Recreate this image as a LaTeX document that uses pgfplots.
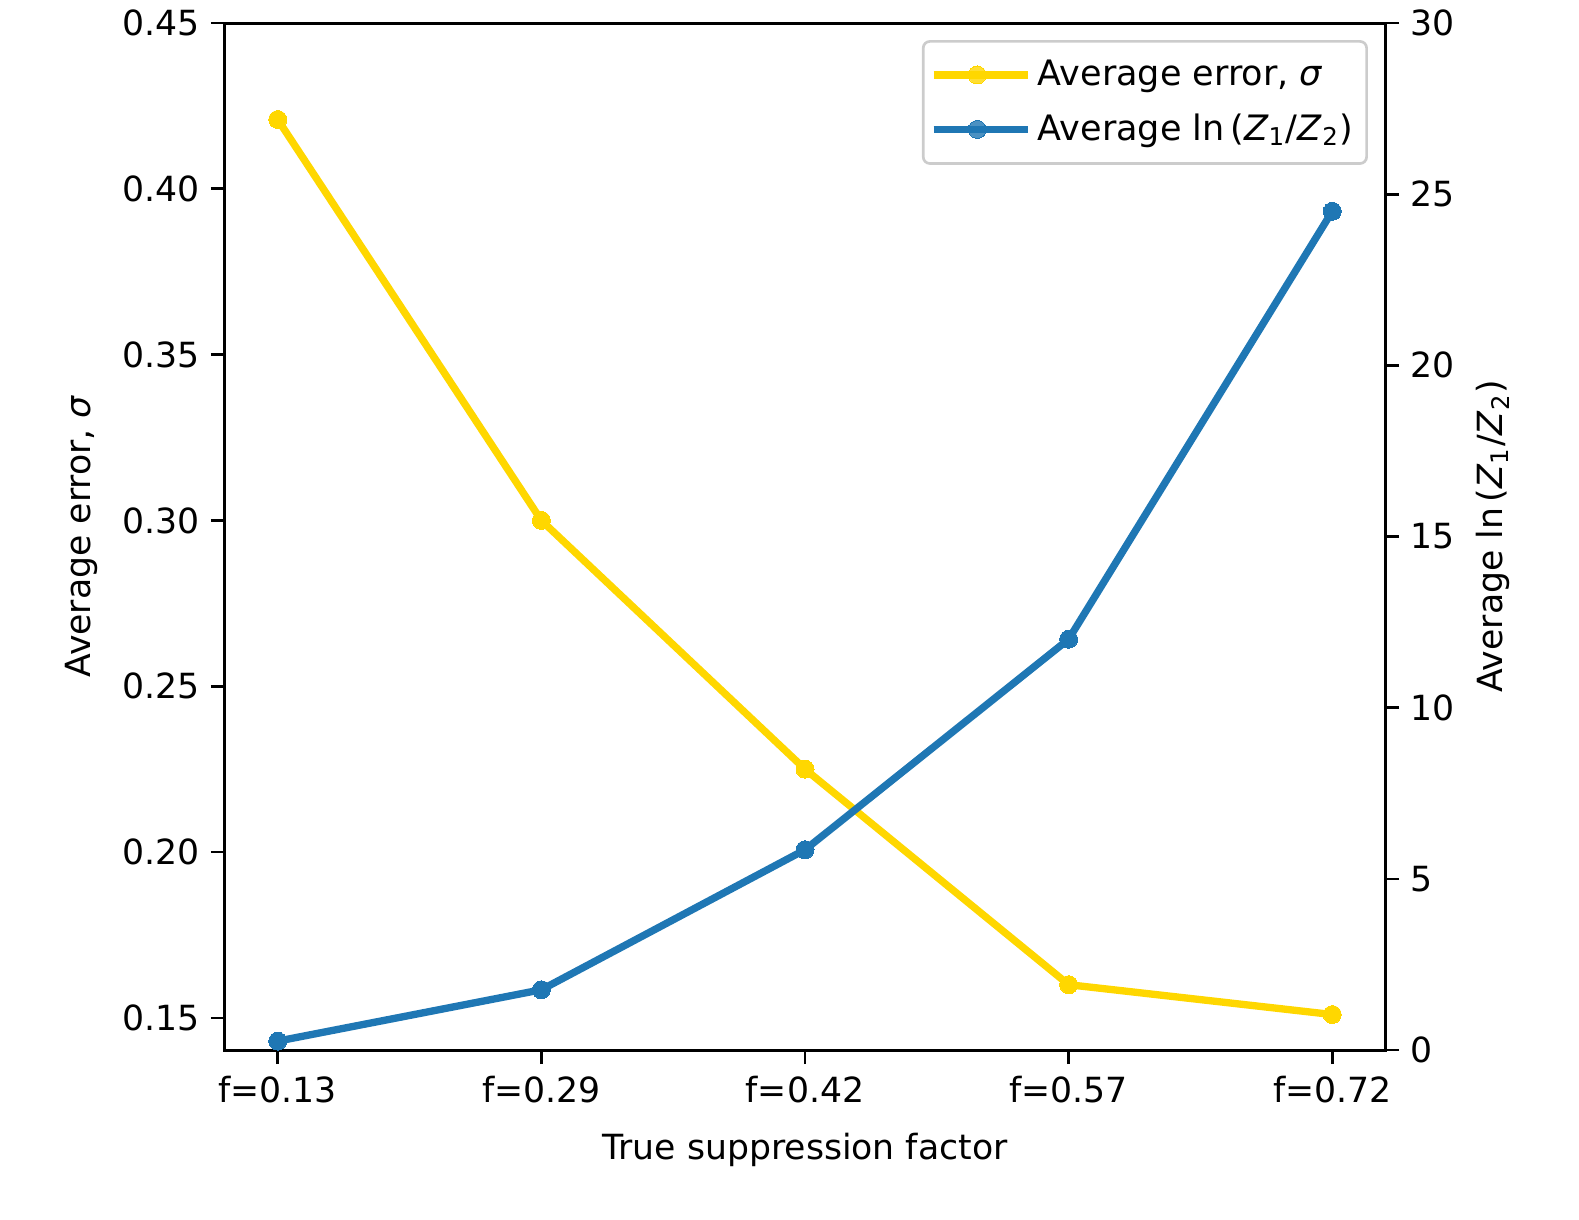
\documentclass[border=0pt]{standalone}
\usepackage{fontspec}
\setmainfont{DejaVu Sans}
\usepackage{pgfplots}
\pgfplotsset{compat=1.18}
\definecolor{cgold}{HTML}{FFD700}
\definecolor{cblue}{HTML}{1F77B4}
\begin{document}
\begin{tikzpicture}
\pgfplotsset{
  common/.style={
    scale only axis, width=348pt, height=308.1pt,
    at={(0pt,0pt)}, anchor=south west,
    xmin=-0.2, xmax=4.2,
    tick align=outside, major tick length=4.2pt,
    every tick/.style={black, line width=0.8pt},
    axis line style={line width=0.9pt},
    /pgf/number format/assume math mode=true,
    ticklabel style={font=\fontsize{10.4}{12}\selectfont},
    label style={font=\fontsize{10.4}{12}\selectfont},
    legend image code/.code={\draw[mark repeat=2,mark phase=2,##1] plot coordinates {(0cm,0cm) (0.39cm,0cm) (0.78cm,0cm)};
      \path (-2pt,0cm) -- (0.78cm+4pt,0cm);},
  }
}
\begin{axis}[common, name=ax,
  ymin=0.1403, ymax=0.45,
  ytick={0.15,0.20,0.25,0.30,0.35,0.40,0.45},
  yticklabel style={/pgf/number format/fixed, /pgf/number format/fixed zerofill, /pgf/number format/precision=2},
  xtick={0,1,2,3,4},
  xticklabels={f=0.13,f=0.29,f=0.42,f=0.57,f=0.72},
  xtick pos=lower, ytick pos=left,
  xlabel={True suppression factor},
  ylabel={Average error, \textit{σ}},
  xlabel style={at={(axis description cs:0.5,-0.0974)}, anchor=center},
  ylabel style={at={(axis description cs:-0.1237,0.5)}, anchor=center},
]
\addplot[cgold, line width=2.2pt, mark=*, mark size=2.7pt, mark options={solid, fill=cgold, draw=cgold, line width=0pt}]
  coordinates {(0,0.4209) (1,0.3000) (2,0.2250) (3,0.1600) (4,0.1510)};
\end{axis}
\begin{axis}[common,
  ymin=0, ymax=30,
  ytick={0,5,10,15,20,25,30},
  hide x axis,
  axis y line*=right,
  ylabel={Average ln\,(\textit{Z}\textsubscript{1}/\textit{Z}\textsubscript{2})},
  ylabel style={at={(axis description cs:1.0931,0.5)}, anchor=center},
  legend style={at={(0.9853,0.9834)}, anchor=north east, draw=black!20, line width=0.8pt,
    rounded corners=2pt, fill=white, fill opacity=0.8, text opacity=1,
    font=\fontsize{10.5}{12}\selectfont, row sep=3pt, inner xsep=2pt, inner ysep=3.5pt},
  legend cell align=left,
]
\addlegendimage{cgold, line width=2.2pt, mark=*, mark size=2.7pt, mark options={solid, fill=cgold, draw=cgold, line width=0pt}}
\addlegendentry{Average error, \textit{σ}}
\addplot[cblue, line width=2.2pt, mark=*, mark size=2.7pt, mark options={solid, fill=cblue, draw=cblue, line width=0pt}]
  coordinates {(0,0.26) (1,1.76) (2,5.85) (3,12.0) (4,24.5)};
\addlegendentry{Average ln\,(\textit{Z}\textsubscript{1}/\textit{Z}\textsubscript{2})}
\end{axis}
\pgfresetboundingbox
\path[use as bounding box] ([shift={(-67.5pt,-50.7pt)}]ax.south west) rectangle ([shift={(58.2pt,6.9pt)}]ax.north east);
\end{tikzpicture}
\end{document}
